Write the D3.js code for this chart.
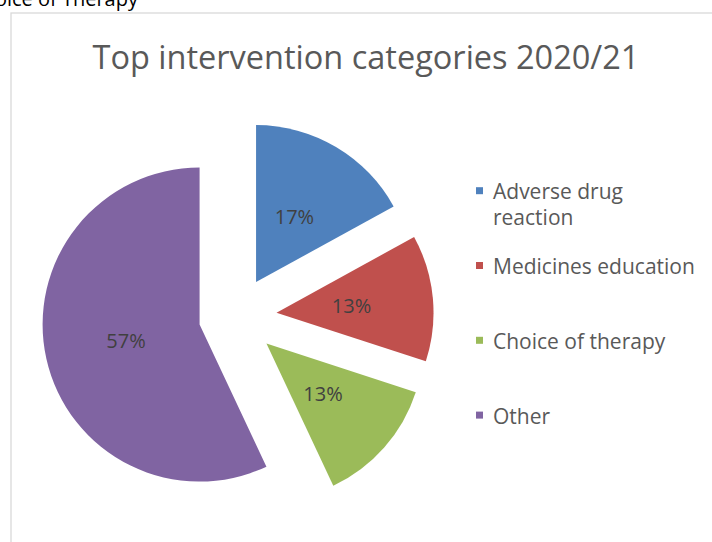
<!DOCTYPE html>
<html>
<head>
<meta charset="utf-8">
<script src="https://cdn.jsdelivr.net/npm/d3@7"></script>
<style>
  html, body { margin: 0; padding: 0; background: #ffffff; }
  svg { display: block; }
</style>
</head>
<body>
<svg id="chart" width="712" height="542"></svg>
<script>
// ---- data ----
const categories = ["Adverse drug reaction", "Medicines education", "Choice of therapy", "Other"];
const values = [17, 13, 13, 57];
const chartTitle = "Top intervention categories 2020/21";
const headingAbove = "Choice of Therapy";

// ---- style ----
const colors = ["#4F81BD", "#C0504D", "#9BBB59", "#8064A2"];
const explode = [40, 41, 41, 37];
const legendLines = [["Adverse drug", "reaction"], ["Medicines education"], ["Choice of therapy"], ["Other"]];
const FONT = "'Open Sans', 'DejaVu Sans', sans-serif";

const svg = d3.select("#chart");

// heading text of the page, cut off at the top edge as in the source
svg.append("text")
  .attr("x", 138).attr("y", 6)
  .attr("text-anchor", "end")
  .attr("font-family", FONT)
  .attr("font-size", 20)
  .attr("fill", "#000")
  .text(headingAbove);

// chart frame
svg.append("rect")
  .attr("x", 11).attr("y", 13)
  .attr("width", 720).attr("height", 560)
  .attr("fill", "#fff")
  .attr("stroke", "#d9d9d9")
  .attr("stroke-width", 1.3);

// fit helper
function fitWidth(sel, target) {
  sel.attr("font-size", 100);
  const w = sel.node().getComputedTextLength();
  sel.attr("font-size", 100 * target / w);
}

// title
const title = svg.append("text")
  .attr("x", 366).attr("y", 69)
  .attr("text-anchor", "middle")
  .attr("font-family", FONT)
  .attr("fill", "#595959")
  .text(chartTitle);
fitWidth(title, 547);

// pie
const cx = 235.7, cy = 316.5, r = 157;
const pie = d3.pie().sort(null).value(d => d)(values);
const arc = d3.arc().innerRadius(0).outerRadius(r);
const labelArc = d3.arc().innerRadius(r * 0.48).outerRadius(r * 0.48);

const g = svg.append("g").attr("transform", `translate(${cx},${cy})`);
const slices = g.selectAll("g.slice").data(pie).enter().append("g")
  .attr("class", "slice")
  .attr("transform", (d, i) => {
    const a = (d.startAngle + d.endAngle) / 2;
    return `translate(${Math.sin(a) * explode[i]},${-Math.cos(a) * explode[i]})`;
  });
slices.append("path")
  .attr("d", arc)
  .attr("fill", (d, i) => colors[i]);
slices.append("text")
  .attr("transform", d => `translate(${labelArc.centroid(d)})`)
  .attr("text-anchor", "middle")
  .attr("dy", "0.36em")
  .attr("font-family", FONT)
  .attr("font-size", 20)
  .attr("fill", "#404040")
  .text(d => d.data + "%");

// legend
const legendX = 476, legendY0 = 190.7, legendStep = 74.8;
const lg = svg.append("g");
const refText = lg.append("text").attr("font-family", FONT).text(legendLines[1][0]);
fitWidth(refText, 202);
const legendFont = +refText.attr("font-size");
refText.remove();

categories.forEach((c, i) => {
  const y = legendY0 + i * legendStep;
  lg.append("rect")
    .attr("x", legendX).attr("y", y - 3.5)
    .attr("width", 7).attr("height", 7)
    .attr("fill", colors[i]);
  const t = lg.append("text")
    .attr("x", legendX + 17).attr("y", y + 8.5)
    .attr("font-family", FONT)
    .attr("font-size", legendFont)
    .attr("fill", "#595959");
  legendLines[i].forEach((line, k) => {
    t.append("tspan").attr("x", legendX + 17).attr("dy", k === 0 ? 0 : 26).text(line);
  });
});
</script>
</body>
</html>
